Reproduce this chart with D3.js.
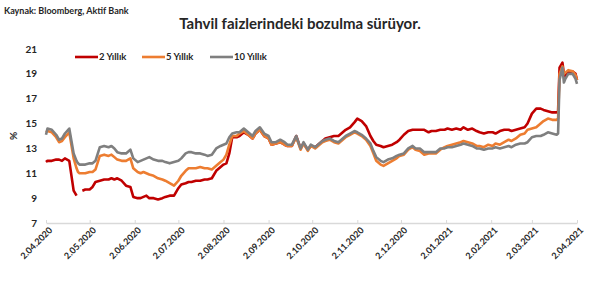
<!DOCTYPE html>
<html lang="tr">
<meta charset="utf-8">
<style type="text/css">
  body { margin: 0; background: #fff; }
  svg { display: block; }
  .lbl { font-family: Lato, "Liberation Sans", sans-serif; font-weight: bold; fill: #262626; }
</style>
<body>
<script src="https://d3js.org/d3.v7.min.js"></script>
<script>
var dates = [
  "2020-04-02","2020-04-03","2020-04-06","2020-04-09","2020-04-11","2020-04-13","2020-04-15","2020-04-18","2020-04-21","2020-04-23",
  "2020-04-24","2020-04-25","2020-04-27","2020-04-29","2020-05-02","2020-05-04","2020-05-06","2020-05-09","2020-05-12","2020-05-15",
  "2020-05-17","2020-05-19","2020-05-21","2020-05-24","2020-05-27","2020-05-30","2020-06-01","2020-06-04","2020-06-06","2020-06-08",
  "2020-06-10","2020-06-12","2020-06-15","2020-06-18","2020-06-21","2020-06-23","2020-06-26","2020-06-29","2020-07-02","2020-07-04",
  "2020-07-07","2020-07-09","2020-07-11","2020-07-14","2020-07-17","2020-07-20","2020-07-22","2020-07-25","2020-07-28","2020-07-31",
  "2020-08-02","2020-08-04","2020-08-06","2020-08-08","2020-08-11","2020-08-13","2020-08-16","2020-08-19","2020-08-22","2020-08-24",
  "2020-08-27","2020-08-30","2020-09-02","2020-09-04","2020-09-07","2020-09-10","2020-09-13","2020-09-15","2020-09-18","2020-09-21",
  "2020-09-24","2020-09-26","2020-09-29","2020-10-01","2020-10-04","2020-10-06","2020-10-09","2020-10-11","2020-10-14","2020-10-17",
  "2020-10-20","2020-10-22","2020-10-25","2020-10-28","2020-10-31","2020-11-02","2020-11-05","2020-11-08","2020-11-11","2020-11-13",
  "2020-11-15","2020-11-18","2020-11-20","2020-11-23","2020-11-26","2020-11-29","2020-12-01","2020-12-04","2020-12-07","2020-12-10",
  "2020-12-12","2020-12-15","2020-12-18","2020-12-21","2020-12-23","2020-12-26","2020-12-29","2021-01-01","2021-01-03","2021-01-06",
  "2021-01-09","2021-01-12","2021-01-14","2021-01-17","2021-01-20","2021-01-23","2021-01-25","2021-01-28","2021-01-31","2021-02-03",
  "2021-02-05","2021-02-08","2021-02-11","2021-02-14","2021-02-16","2021-02-19","2021-02-22","2021-02-25","2021-02-27","2021-03-02",
  "2021-03-05","2021-03-08","2021-03-10","2021-03-13","2021-03-16","2021-03-19","2021-03-20","2021-03-21","2021-03-23","2021-03-24",
  "2021-03-25","2021-03-27","2021-03-30","2021-04-01","2021-04-02"
];

// 2 yillik (null = veri yok)
var y2 = [
  11.9,12.0,12.0,12.1,12.1,12.0,12.2,12.0,9.6,9.2,
  null,null,9.6,9.7,9.7,9.9,10.3,10.4,10.5,10.5,
  10.6,10.5,10.6,10.4,10.0,9.9,9.1,9.0,9.0,9.1,
  9.2,9.0,9.0,8.9,9.0,9.1,9.2,9.2,9.8,10.1,
  10.2,10.3,10.3,10.4,10.4,10.5,10.5,10.6,11.2,11.5,
  11.7,11.8,12.6,13.9,13.9,14.0,14.3,14.1,13.8,14.2,
  14.5,14.0,13.8,13.3,13.4,13.5,13.3,13.2,13.2,14.0,
  13.0,13.4,12.9,13.2,13.1,13.3,13.6,13.8,13.9,14.0,
  14.0,14.2,14.5,14.7,15.1,15.4,15.2,14.8,14.0,13.6,
  13.3,13.2,13.1,13.2,13.3,13.5,13.7,14.1,14.4,14.5,
  14.5,14.5,14.5,14.3,14.4,14.4,14.5,14.5,14.6,14.5,
  14.6,14.5,14.7,14.5,14.6,14.4,14.3,14.2,14.3,14.3,
  14.2,14.4,14.5,14.5,14.4,14.5,14.6,14.7,15.0,15.8,
  16.2,16.2,16.1,16.0,15.9,15.9,16.0,19.5,19.9,19.0,
  18.8,19.1,19.2,19.0,18.5
];

// 5 yillik
var y5 = [
  14.3,14.4,14.3,13.9,13.5,13.6,13.9,14.3,12.2,11.4,
  11.1,11.0,11.0,11.0,11.1,11.1,11.3,12.4,12.5,12.4,
  12.5,12.3,12.1,12.0,12.0,12.2,11.4,11.1,11.0,11.1,
  11.0,10.9,10.8,10.6,10.5,10.4,10.2,10.0,10.4,10.8,
  11.2,11.4,11.4,11.4,11.5,11.4,11.4,11.3,11.6,11.9,
  12.1,12.5,13.3,14.0,14.0,14.2,14.4,14.1,13.8,14.2,
  14.5,14.0,13.8,13.3,13.4,13.5,13.3,13.2,13.2,13.9,
  12.9,13.4,12.8,13.2,13.0,13.2,13.5,13.6,13.7,13.5,
  13.4,13.6,13.9,14.1,14.3,14.2,14.0,13.7,13.2,12.6,
  12.0,11.7,11.6,11.8,12.0,12.2,12.4,12.5,12.9,13.1,
  12.9,12.8,12.5,12.6,12.6,12.6,12.9,13.1,13.2,13.3,
  13.4,13.5,13.6,13.5,13.4,13.2,13.2,13.1,13.3,13.2,
  13.4,13.3,13.5,13.7,13.6,13.8,14.1,14.2,14.5,14.6,
  14.7,15.0,15.2,15.4,15.3,15.3,15.4,19.0,19.6,19.0,
  19.1,19.3,19.2,18.9,18.5
];

// 10 yillik
var y10 = [
  14.1,14.6,14.5,14.1,13.7,13.8,14.2,14.6,12.6,12.0,
  11.8,11.7,11.7,11.7,11.8,11.8,12.0,13.1,13.2,13.1,
  13.2,13.0,12.7,12.6,12.6,12.9,12.2,11.9,12.0,12.1,
  12.2,12.3,12.1,12.0,12.0,11.9,11.8,11.9,12.0,12.2,
  12.6,12.7,12.7,12.6,12.6,12.5,12.4,12.5,13.0,13.2,
  13.3,13.4,13.9,14.2,14.3,14.3,14.6,14.3,14.0,14.4,
  14.7,14.2,14.0,13.5,13.5,13.7,13.5,13.3,13.3,14.0,
  13.0,13.5,12.9,13.3,13.1,13.3,13.6,13.7,13.8,13.6,
  13.5,13.7,14.0,14.2,14.4,14.3,14.1,13.8,13.4,12.8,
  12.3,12.0,11.9,12.1,12.2,12.4,12.5,12.6,13.0,13.2,
  13.0,13.0,12.7,12.7,12.7,12.7,13.0,13.0,13.1,13.1,
  13.2,13.3,13.4,13.3,13.2,13.0,13.0,12.9,13.0,13.0,
  13.1,13.0,13.1,13.2,13.1,13.3,13.4,13.4,13.5,13.9,
  14.0,14.0,14.1,14.3,14.2,14.1,14.2,18.5,19.5,18.3,
  18.6,19.0,19.0,18.6,18.2
];

var seriesNames = ["2 Yıllık", "5 Yıllık", "10 Yıllık"];
var seriesColors = ["#C00000", "#ED7D31", "#7F7F7F"];
var yTicks = [7, 9, 11, 13, 15, 17, 19, 21];
var xTicks = ["2020-04-02","2020-05-02","2020-06-02","2020-07-02","2020-08-02","2020-09-02","2020-10-02",
  "2020-11-02","2020-12-02","2021-01-02","2021-02-02","2021-03-02","2021-04-02"];

var W = 600, H = 286;
var svg = d3.select("body").append("svg").attr("width", W).attr("height", H);

var parse = d3.timeParse("%Y-%m-%d");
var fmt = d3.timeFormat("%-d.%m.%Y");
var x = d3.scaleTime()
    .domain([parse(dates[0]), parse(dates[dates.length - 1])])
    .range([46, 577]);
var y = d3.scaleLinear().domain([7, 21]).range([223, 49]);

// baslik ve kaynak
svg.append("text").attr("class", "lbl")
    .attr("x", 4).attr("y", 14)
    .style("font-size", "9px")
    .text("Kaynak: Bloomberg, Aktif Bank");
svg.append("text").attr("class", "lbl")
    .attr("x", 300).attr("y", 29)
    .attr("text-anchor", "middle")
    .style("font-size", "15px")
    .text("Tahvil faizlerindeki bozulma sürüyor.");

// y ekseni (sadece etiketler)
svg.selectAll(".ytick").data(yTicks).enter().append("text")
    .attr("class", "lbl ytick")
    .attr("x", 37).attr("y", function (d) { return y(d); })
    .attr("dy", "0.35em")
    .attr("text-anchor", "end")
    .style("font-size", "10px")
    .text(function (d) { return d; });
svg.append("text").attr("class", "lbl")
    .attr("transform", "translate(17," + y(14) + ") rotate(-90)")
    .attr("text-anchor", "middle")
    .style("font-size", "10px")
    .text("%");

// x ekseni
var xAxis = svg.append("g")
    .attr("transform", "translate(0," + y(7) + ")")
    .call(d3.axisBottom(x)
        .tickValues(xTicks.map(parse))
        .tickFormat(fmt)
        .tickSize(3)
        .tickSizeOuter(0));
xAxis.select(".domain").attr("stroke", "#D9D9D9").attr("stroke-width", 1.5);
xAxis.selectAll(".tick line").attr("stroke", "#D9D9D9").attr("y1", -3).attr("y2", 0);
xAxis.selectAll(".tick text")
    .attr("class", "lbl")
    .style("font-size", "9px")
    .attr("text-anchor", "end")
    .attr("transform", "rotate(-45)")
    .attr("dx", "-0.1em")
    .attr("dy", "0.9em")
    .attr("y", 2);

// cizgiler
var allSeries = [y2, y5, y10];
var line = d3.line()
    .defined(function (d) { return d.v !== null; })
    .x(function (d) { return x(d.t); })
    .y(function (d) { return y(d.v); });

allSeries.forEach(function (vals, i) {
    var pts = dates.map(function (s, j) { return { t: parse(s), v: vals[j] }; });
    svg.append("path")
        .datum(pts)
        .attr("fill", "none")
        .attr("stroke", seriesColors[i])
        .attr("stroke-width", 2.6)
        .attr("stroke-linejoin", "round")
        .attr("d", line);
});

// lejant
var legendX = [75, 142, 210];
var legend = svg.selectAll(".leg").data(seriesNames).enter().append("g")
    .attr("transform", function (d, i) { return "translate(" + legendX[i] + ",57)"; });
legend.append("line")
    .attr("x1", 0).attr("x2", 23).attr("y1", 0).attr("y2", 0)
    .attr("stroke", function (d, i) { return seriesColors[i]; })
    .attr("stroke-width", 2.6);
legend.append("text").attr("class", "lbl")
    .attr("x", 24).attr("dy", "0.35em")
    .style("font-size", "9.5px")
    .text(function (d) { return d; });
</script>
</body>
</html>
